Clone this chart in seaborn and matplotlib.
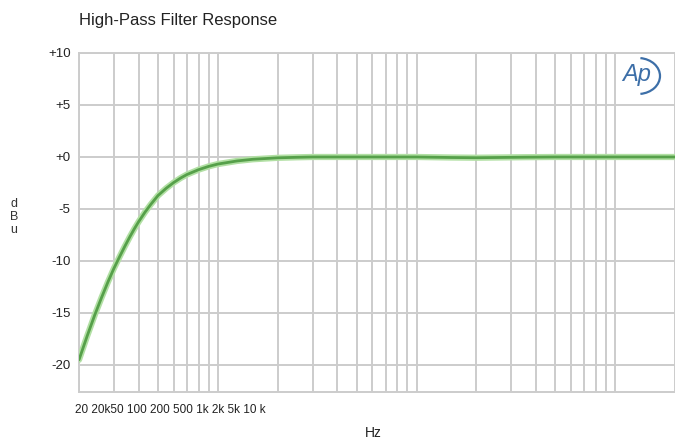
import matplotlib
matplotlib.use("Agg")
import matplotlib.pyplot as plt
from matplotlib.patches import Arc
from matplotlib.ticker import LogLocator, NullFormatter
import numpy as np
import pandas as pd
import seaborn as sns

# values
freq_hz = [20, 22, 24, 26, 28, 30, 32, 34, 36, 38, 40, 43, 46, 50, 55, 60, 65,
           70, 80, 90, 100, 125, 150, 200, 250, 300, 500, 1000, 1500, 2000,
           2500, 3500, 5000, 10000, 20000]
level_dbu = [-19.5, -17.2, -15.2, -13.5, -12.0, -10.7, -9.6, -8.6, -7.7, -6.9,
             -6.2, -5.3, -4.55, -3.7, -3.0, -2.45, -2.02, -1.68, -1.22, -0.9,
             -0.68, -0.38, -0.22, -0.08, -0.03, 0.0, 0.0, 0.0, -0.05, -0.07,
             -0.05, -0.02, 0.0, 0.0, 0.0]
ytick_vals = [10, 5, 0, -5, -10, -15, -20]
ytick_text = ["+10", "+5", "+0", "-5", "-10", "-15", "-20"]
xtick_text = "20 20k50 100 200 500 1k 2k 5k 10 k"

sns.set_style("white")
plt.rcParams["font.family"] = ["Liberation Sans", "DejaVu Sans"]

df = pd.DataFrame({"freq": freq_hz, "level": level_dbu})

fig = plt.figure(figsize=(6.75, 4.4), dpi=100)
ax = fig.add_axes([79 / 675, 48 / 440, 596 / 675, 339 / 440])

grid_col = "#cccccc"
ax.set_xscale("log")
ax.set_xlim(20, 20000)
ax.set_ylim(-22.6, 10)
ax.xaxis.set_major_locator(LogLocator(base=10, subs=(1.0, 2.0)))
ax.xaxis.set_minor_locator(LogLocator(base=10, subs=np.arange(2, 10)))
ax.xaxis.set_major_formatter(NullFormatter())
ax.xaxis.set_minor_formatter(NullFormatter())
ax.grid(which="both", axis="x", color=grid_col, lw=1.4)
ax.grid(which="major", axis="y", color=grid_col, lw=1.4)
ax.set_yticks(ytick_vals)
ax.set_yticklabels(ytick_text, fontsize=9.5, color="#222222")
ax.tick_params(axis="both", which="both", length=0)
ax.tick_params(axis="y", pad=6)
for s in ax.spines.values():
    s.set_color(grid_col)
    s.set_linewidth(1.4)
ax.spines["right"].set_visible(False)

# soft halo + core line
sns.lineplot(data=df, x="freq", y="level", ax=ax, color="#b2e0a4", lw=4.5, zorder=3)
sns.lineplot(data=df, x="freq", y="level", ax=ax, color="#56a04a", lw=2.0, zorder=4)
ax.set_xlabel("")
ax.set_ylabel("")

fig.text(79 / 675, 1 - 20 / 440, "High-Pass Filter Response", fontsize=12,
         color="#222222", va="center", ha="left")
fig.text(75 / 675, 1 - 410 / 440, xtick_text, fontsize=8.5, color="#222222",
         va="center", ha="left")
fig.text(373 / 675, 1 - 433 / 440, "Hz", fontsize=10, color="#222222",
         va="center", ha="center")
fig.text(14 / 675, 1 - 217 / 440, "d\nB\nu", fontsize=9, color="#333333",
         va="center", ha="center", linespacing=1.15)

# Ap logo
fig.text(637 / 675, 1 - 75 / 440, "Ap", fontsize=17, color="#3d6fa8",
         style="italic", va="center", ha="center")
fig.patches.append(Arc((638 / 675, 1 - 76 / 440), 44 / 675, 36 / 440,
                       theta1=-85, theta2=85, color="#3d6fa8", lw=1.6,
                       transform=fig.transFigure, figure=fig))

plt.savefig("out.png", dpi=100)
plt.close()
